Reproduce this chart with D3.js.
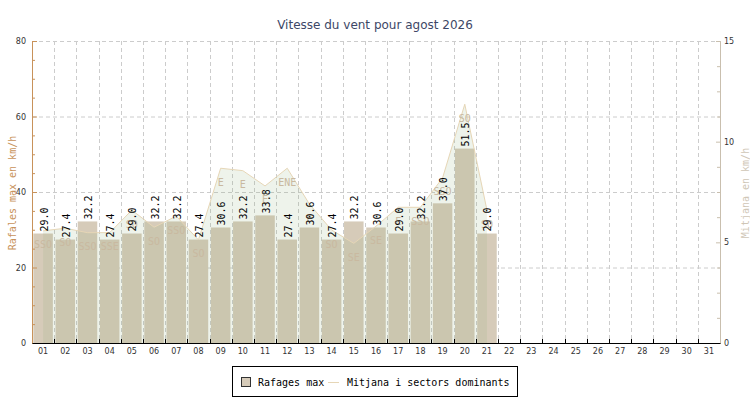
<!DOCTYPE html>
<html>
<head>
<meta charset="utf-8">
<script src="https://cdn.jsdelivr.net/npm/d3@7"></script>
<style>
  body { margin: 0; background: #fff; }
</style>
</head>
<body>
<div id="chart-container"></div>
<script>
const days = ['01', '02', '03', '04', '05', '06', '07', '08', '09', '10', '11', '12', '13', '14', '15', '16',
  '17', '18', '19', '20', '21', '22', '23', '24', '25', '26', '27', '28', '29', '30', '31']
const gusts = [29.0, 27.4, 32.2, 27.4, 29.0, 32.2, 32.2, 27.4, 30.6, 32.2, 33.8, 27.4, 30.6, 27.4, 32.2, 30.6,
  29.0, 32.2, 37.0, 51.5, 29.0]
const meanSpeed = [5.57, 5.70, 5.48, 5.48, 6.6, 5.75, 6.3, 5.12, 8.68, 8.56, 7.80, 8.68, 6.9, 5.61, 4.95, 5.8,
  6.74, 6.74, 8.2, 11.86, 6.6]
const sectors = ['SSO', 'SO', 'SSO', 'SSE', 'SO', 'SO', 'SSO', 'SO', 'E', 'E', 'E', 'ENE', 'E', 'SO', 'SE', 'SE',
  'E', 'SSO', 'SSO', 'SO', 'SO']
const leftTicks = [0, 20, 40, 60, 80]
const leftMinor = [5, 10, 15, 25, 30, 35, 45, 50, 55, 65, 70, 75]
const rightTicks = [0, 5, 10, 15]
const rightMinor = [1.25, 2.5, 3.75, 6.25, 7.5, 8.75, 11.25, 12.5, 13.75]

function draw () {
  const width = 750
  const height = 400
  const marginTop = 41
  const marginRight = 30
  const marginBottom = 57
  const marginLeft = 32
  const mono = "'DejaVu Sans Mono', monospace"
  const sans = "'DejaVu Sans', sans-serif"

  const svg = d3.select('#chart-container')
    .append('svg')
    .attr('width', width)
    .attr('height', height)
    .style('background-color', '#ffffff')

  const xScale = d3.scaleBand()
    .domain(days)
    .range([marginLeft, width - marginRight])
    .paddingInner(0.12)
    .paddingOuter(0.06)
  const step = xScale.step()
  const bound = d => xScale(d) - xScale.paddingInner() * step / 2
  const cx = d => xScale(d) + xScale.bandwidth() / 2

  const yScale = d3.scaleLinear()
    .domain([0, 80])
    .range([height - marginBottom, marginTop])
  const y2Scale = d3.scaleLinear()
    .domain([0, 15])
    .range([height - marginBottom, marginTop])

  // grid
  svg.append('g')
    .selectAll('line')
    .data(leftTicks.slice(1))
    .enter()
    .append('line')
    .attr('x1', marginLeft)
    .attr('x2', width - marginRight)
    .attr('y1', d => yScale(d) + 0.5)
    .attr('y2', d => yScale(d) + 0.5)
    .attr('stroke', '#cccccc')
    .attr('stroke-dasharray', '4,3')
  svg.append('g')
    .selectAll('line')
    .data(days.slice(1))
    .enter()
    .append('line')
    .attr('x1', d => Math.round(bound(d)) + 0.5)
    .attr('x2', d => Math.round(bound(d)) + 0.5)
    .attr('y1', marginTop)
    .attr('y2', height - marginBottom)
    .attr('stroke', '#cccccc')
    .attr('stroke-dasharray', '4,3')

  // bars
  svg.append('g')
    .selectAll('rect')
    .data(gusts)
    .enter()
    .append('rect')
    .attr('x', (d, i) => xScale(days[i]))
    .attr('y', d => yScale(d))
    .attr('width', xScale.bandwidth())
    .attr('height', d => yScale(0) - yScale(d))
    .attr('fill', '#d6cbb9')

  // mean speed area
  const area = d3.area()
    .x((d, i) => cx(days[i]))
    .y0(y2Scale(0))
    .y1(d => y2Scale(d))
  svg.append('path')
    .datum(meanSpeed)
    .attr('d', area)
    .attr('fill', '#8bb07a')
    .attr('fill-opacity', 0.15)
  const line = d3.line()
    .x((d, i) => cx(days[i]))
    .y(d => y2Scale(d))
  svg.append('path')
    .datum(meanSpeed)
    .attr('d', line)
    .attr('fill', 'none')
    .attr('stroke', '#e6d6b6')
    .attr('stroke-width', 1)

  svg.append('g')
    .selectAll('text')
    .data(sectors)
    .enter()
    .append('text')
    .attr('x', (d, i) => cx(days[i]))
    .attr('y', (d, i) => y2Scale(meanSpeed[i]) + 14)
    .attr('text-anchor', 'middle')
    .attr('dominant-baseline', 'central')
    .style('font-family', mono)
    .style('font-size', '10px')
    .attr('fill', '#c9b9a0')
    .text(d => d)

  // bar value labels
  svg.append('g')
    .selectAll('text')
    .data(gusts)
    .enter()
    .append('text')
    .attr('transform', (d, i) => 'translate(' + (cx(days[i]) + 1) + ',' + (yScale(d) - 2) + ') rotate(-90)')
    .attr('dominant-baseline', 'central')
    .style('font-family', mono)
    .style('font-size', '10px')
    .attr('fill', '#000')
    .text(d => d.toFixed(1))

  // left axis
  const leftAxis = svg.append('g')
    .attr('transform', 'translate(' + marginLeft + ',0)')
    .call(d3.axisLeft(yScale).tickValues(leftTicks).tickSize(-5).tickPadding(6).tickFormat(d3.format('d')))
  leftAxis.append('g')
    .call(d3.axisLeft(yScale).tickValues(leftMinor).tickSize(-3).tickFormat(''))
  leftAxis.selectAll('path, line').attr('stroke', '#c8925a')
  leftAxis.selectAll('g > path').filter((d, i) => i > 0).remove()
  leftAxis.selectAll('text').style('font-family', sans).style('font-size', '8px').attr('fill', '#333')

  // right axis
  const rightAxis = svg.append('g')
    .attr('transform', 'translate(' + (width - marginRight) + ',0)')
    .call(d3.axisRight(y2Scale).tickValues(rightTicks).tickSize(-4).tickPadding(4).tickFormat(d3.format('d')))
  rightAxis.append('g')
    .call(d3.axisRight(y2Scale).tickValues(rightMinor).tickSize(-3).tickFormat(''))
  rightAxis.selectAll('path, line').attr('stroke', '#c9bfae')
  rightAxis.selectAll('text').style('font-family', sans).style('font-size', '8px').attr('fill', '#333')

  // bottom axis
  const bottomAxis = svg.append('g')
    .attr('transform', 'translate(0,' + (height - marginBottom) + ')')
    .call(d3.axisBottom(xScale).tickSize(0).tickPadding(5).tickSizeOuter(0))
  bottomAxis.select('.domain').attr('stroke', '#000')
  bottomAxis.selectAll('text').style('font-family', sans).style('font-size', '8px').attr('fill', '#333')
  svg.append('g')
    .selectAll('line')
    .data(days.slice(1))
    .enter()
    .append('line')
    .attr('x1', d => Math.round(bound(d)) + 0.5)
    .attr('x2', d => Math.round(bound(d)) + 0.5)
    .attr('y1', height - marginBottom)
    .attr('y2', height - marginBottom - 4)
    .attr('stroke', '#000')

  // titles
  svg.append('text')
    .attr('x', 375)
    .attr('y', 25)
    .attr('text-anchor', 'middle')
    .attr('dominant-baseline', 'central')
    .style('font-family', sans)
    .style('font-size', '12px')
    .attr('fill', '#3d4766')
    .text('Vitesse du vent pour agost 2026')
  svg.append('text')
    .attr('transform', 'translate(12,193) rotate(-90)')
    .attr('text-anchor', 'middle')
    .attr('dominant-baseline', 'central')
    .style('font-family', mono)
    .style('font-size', '10px')
    .attr('fill', '#c8925a')
    .text('Rafales max en km/h')
  svg.append('text')
    .attr('transform', 'translate(745,193) rotate(-90)')
    .attr('text-anchor', 'middle')
    .attr('dominant-baseline', 'central')
    .style('font-family', mono)
    .style('font-size', '10px')
    .attr('fill', '#cfc6b6')
    .text('Mitjana en km/h')

  // legend
  const legend = svg.append('g')
  legend.append('rect')
    .attr('x', 232.5)
    .attr('y', 366.5)
    .attr('width', 285)
    .attr('height', 30)
    .attr('fill', '#fff')
    .attr('stroke', '#000')
  legend.append('rect')
    .attr('x', 241.5)
    .attr('y', 377.5)
    .attr('width', 9)
    .attr('height', 9)
    .attr('fill', '#d6cbb9')
    .attr('stroke', '#333')
  legend.append('text')
    .attr('x', 258)
    .attr('y', 382)
    .attr('dominant-baseline', 'central')
    .style('font-family', mono)
    .style('font-size', '10px')
    .attr('fill', '#000')
    .text('Rafages max')
  legend.append('line')
    .attr('x1', 328)
    .attr('x2', 339)
    .attr('y1', 382.5)
    .attr('y2', 382.5)
    .attr('stroke', '#e6d6b6')
  legend.append('text')
    .attr('x', 347)
    .attr('y', 382)
    .attr('dominant-baseline', 'central')
    .style('font-family', mono)
    .style('font-size', '10px')
    .attr('fill', '#000')
    .text('Mitjana i sectors dominants')
}
draw()
</script>
</body>
</html>
